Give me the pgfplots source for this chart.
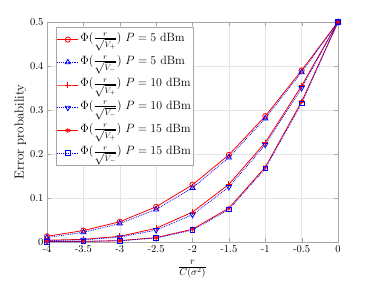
\documentclass[border=0pt]{standalone}
\usepackage{pgfplots}
\pgfplotsset{compat=1.18}
\usetikzlibrary{calc}
\pgfplotstableread{
x s1 s2 s3 s4 s5 s6
-4 0.013 0.010 0.004 0.003 0.0010 0.0008
-3.5 0.026 0.022 0.006 0.005 0.0015 0.0013
-3 0.046 0.042 0.013 0.011 0.0030 0.0028
-2.5 0.080 0.074 0.031 0.027 0.0100 0.0090
-2 0.130 0.123 0.068 0.062 0.0290 0.0270
-1.5 0.198 0.192 0.131 0.125 0.0770 0.0740
-1 0.286 0.281 0.226 0.221 0.1700 0.1670
-0.5 0.390 0.386 0.355 0.350 0.3190 0.3150
0 0.500 0.500 0.500 0.500 0.5000 0.5000
}\datatable
\begin{document}
\begin{tikzpicture}
\begin{axis}[
  scale only axis, width=291pt, height=220pt,
  xmin=-4, xmax=0, ymin=0, ymax=0.5,
  xtick={-4,-3.5,...,0}, ytick={0,0.1,...,0.5},
  yticklabel style={/pgf/number format/fixed},
  xticklabel style={/pgf/number format/fixed},
  /pgf/number format/assume math mode=true,
  grid=major, major grid style={gray!20},
  tick align=inside, tick style={gray!70},
  axis line style={gray!70},
  ticklabel style={font=\fontsize{10.5}{12}\selectfont},
  xlabel={$\frac{r}{C(\sigma^2)}$},
  ylabel={Error probability},
  xlabel style={font=\fontsize{14}{16}\selectfont, yshift=-1pt},
  ylabel style={font=\fontsize{13}{15}\selectfont, yshift=-3pt},
  legend style={at={(rel axis cs:0.03,0.977)}, anchor=north west, draw=gray!70, font=\fontsize{12}{14}\selectfont, inner sep=1pt, nodes={text height=12.5pt, text depth=9pt, inner ysep=0.6pt, inner xsep=1.6pt}},
  legend cell align=left,
  legend image code/.code={\draw[mark repeat=2,mark phase=2,#1] plot coordinates {(0pt,0pt)(10.5pt,0pt)(21pt,0pt)};},
  every axis plot/.append style={line width=0.8pt},
]
\addplot[red, mark=o, mark size=2.6pt] table[x=x,y=s1]{\datatable};
\addlegendentry{$\Phi(\frac{r}{\sqrt{V_+}})$ $P=5$ dBm}
\addplot[blue, densely dotted, mark=triangle, mark size=3pt, mark options={solid}] table[x=x,y=s2]{\datatable};
\addlegendentry{$\Phi(\frac{r}{\sqrt{V_-}})$ $P=5$ dBm}
\addplot[red, mark=+, mark size=3pt] table[x=x,y=s3]{\datatable};
\addlegendentry{$\Phi(\frac{r}{\sqrt{V_+}})$ $P=10$ dBm}
\addplot[blue, densely dotted, mark=triangle, mark size=3pt, mark options={solid, rotate=180}] table[x=x,y=s4]{\datatable};
\addlegendentry{$\Phi(\frac{r}{\sqrt{V_-}})$ $P=10$ dBm}
\addplot[red, mark=asterisk, mark size=2.5pt] table[x=x,y=s5]{\datatable};
\addlegendentry{$\Phi(\frac{r}{\sqrt{V_+}})$ $P=15$ dBm}
\addplot[blue, densely dotted, mark=square, mark size=2.3pt, mark options={solid}] table[x=x,y=s6]{\datatable};
\addlegendentry{$\Phi(\frac{r}{\sqrt{V_-}})$ $P=15$ dBm}
\end{axis}
\path ($(current axis.south west)+(-47pt,-38pt)$) rectangle ($(current axis.north east)+(36pt,22pt)$);
\end{tikzpicture}
\end{document}
